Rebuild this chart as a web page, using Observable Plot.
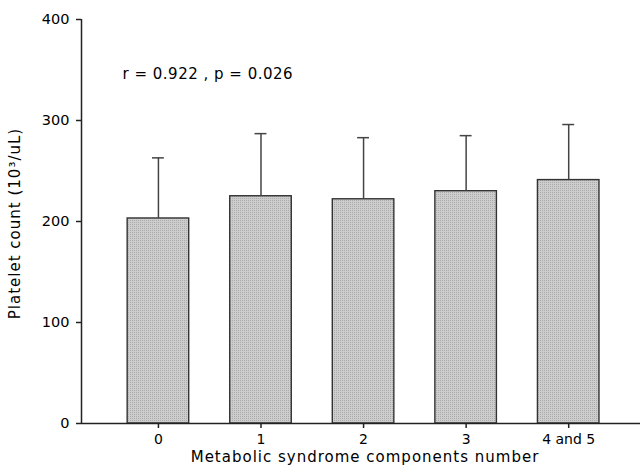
<!DOCTYPE html>
<html>
<head>
<meta charset="utf-8">
<script src="https://cdn.jsdelivr.net/npm/d3@7"></script>
<script src="https://cdn.jsdelivr.net/npm/@observablehq/plot@0.6"></script>
<style>
  html, body { margin: 0; padding: 0; background: #fff; }
  .x-title, .x-title text, [aria-label="x-title"], [aria-label="x-title"] text { letter-spacing: 1px; }
  .y-title, .y-title text, [aria-label="y-title"], [aria-label="y-title"] text { letter-spacing: 1px; }
  .stat-note, .stat-note text, [aria-label="stat-note"], [aria-label="stat-note"] text { letter-spacing: 0.5px; }
</style>
</head>
<body>
<div id="chart"></div>
<script>
// Data
const categories = ["0", "1", "2", "3", "4 and 5"];
const means = [203, 225, 222, 230, 241];
const sds = [60, 62, 61, 55, 55];
const yTicks = [0, 100, 200, 300, 400];
const xTitle = "Metabolic syndrome components number";
const yTitle = "Platelet count (10³/uL)";
const note = "r = 0.922 , p = 0.026";

const data = categories.map((c, i) => ({i, label: c, mean: means[i], sd: sds[i]}));
const half = 0.3;   // half bar width in category units
const cap = 0.058;  // half cap width

// fine crosshatch texture for the bars
const hatchDefs = () => {
  const defs = d3.create("svg:defs");
  const p = defs.append("pattern").attr("id", "hatch").attr("patternUnits", "userSpaceOnUse")
    .attr("width", 2).attr("height", 2);
  p.append("rect").attr("width", 2).attr("height", 2).attr("fill", "#cdcdcd");
  p.append("rect").attr("width", 1).attr("height", 1).attr("fill", "#ababab");
  return defs.node();
};

const chart = Plot.plot({
  width: 641,
  height: 470,
  marginLeft: 81,
  marginRight: 1,
  marginTop: 19,
  marginBottom: 47,
  style: {fontFamily: "'DejaVu Sans', sans-serif", fontSize: "14px", color: "#000", background: "#fff"},
  x: {domain: [-0.75, 4.70], axis: null},
  y: {domain: [0, 400], axis: null},
  marks: [
    hatchDefs,
    Plot.rectY(data, {x1: d => d.i - half, x2: d => d.i + half, y1: 0, y2: "mean",
      fill: "url(#hatch)", stroke: "#333", strokeWidth: 1.4}),
    Plot.ruleX(data, {x: "i", y1: "mean", y2: d => d.mean + d.sd, stroke: "#444", strokeWidth: 1.5}),
    Plot.ruleY(data, {y: d => d.mean + d.sd, x1: d => d.i - cap, x2: d => d.i + cap, stroke: "#444", strokeWidth: 1.5}),
    Plot.ruleY([0], {stroke: "#222", strokeWidth: 1.5}),
    Plot.ruleX([-0.75], {stroke: "#222", strokeWidth: 1.5}),
    Plot.axisY({ticks: yTicks, tickSize: 5, tickPadding: 7, label: null, stroke: "#222", strokeWidth: 1.5, fontSize: 14.5}),
    Plot.axisX({ticks: [0, 1, 2, 3, 4], tickFormat: i => categories[i], tickSize: 5, tickPadding: 6,
      label: null, stroke: "#222", strokeWidth: 1.5, fontSize: 14}),
    Plot.text([xTitle], {text: d => d, frameAnchor: "bottom", lineAnchor: "bottom", dx: 4, dy: 38.5,
      fontSize: 15, fill: "#000", ariaLabel: "x-title", className: "x-title"}),
    Plot.text([yTitle], {text: d => d, frameAnchor: "left", textAnchor: "middle", rotate: -90, lineAnchor: "middle",
      dx: -66, dy: 2, fontSize: 15, fill: "#000", ariaLabel: "y-title", className: "y-title"}),
    Plot.text([note], {text: d => d, frameAnchor: "top-left", textAnchor: "start", lineAnchor: "middle",
      dx: 41, dy: 54.4, fontSize: 15, fill: "#000", ariaLabel: "stat-note", className: "stat-note"})
  ]
});
document.getElementById("chart").appendChild(chart);
</script>
</body>
</html>
